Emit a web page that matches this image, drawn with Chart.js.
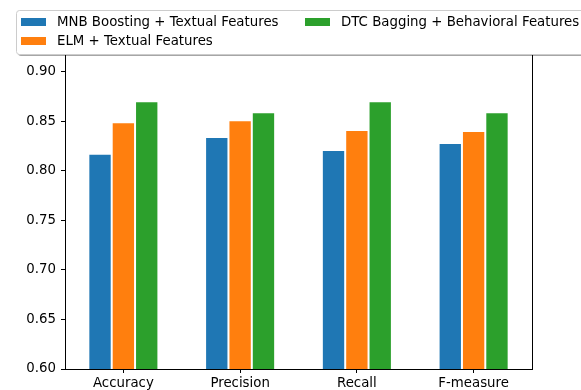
<!DOCTYPE html>
<html>
<head>
<meta charset="utf-8">
<script src="https://cdn.jsdelivr.net/npm/chart.js@4/dist/chart.umd.min.js"></script>
<style>
  body { margin: 0; overflow: hidden; background: white; }
  #wrap { position: relative; width: 581px; height: 400px; }
</style>
</head>
<body>
<div id="wrap"><canvas id="barChart" width="581" height="400"></canvas></div>
<script>
const categories = ["Accuracy", "Precision", "Recall", "F-measure"];
const seriesNames = ["MNB Boosting + Textual Features", "ELM + Textual Features", "DTC Bagging + Behavioral Features"];
const mnbBoosting = [0.817, 0.834, 0.821, 0.828];
const elmTextual = [0.849, 0.851, 0.841, 0.840];
const dtcBagging = [0.870, 0.859, 0.870, 0.859];
const seriesColors = ["#1f77b4", "#ff7f0e", "#2ca02c"];
const yTicks = [0.60, 0.65, 0.70, 0.75, 0.80, 0.85, 0.90, 0.95];

const FONT = "DejaVu Sans";
const FONT_SIZE = 13.33;
const CHART = document.getElementById("barChart");

// box around the axes, like matplotlib spines
const frameBox = {
  id: "frameBox",
  afterDatasetsDraw(chart) {
    const { ctx, chartArea } = chart;
    ctx.save();
    ctx.strokeStyle = "#000";
    ctx.lineWidth = 1;
    ctx.strokeRect(Math.round(chartArea.left) + 0.5, Math.round(chartArea.top) + 0.5,
      Math.round(chartArea.right - chartArea.left), Math.round(chartArea.bottom - chartArea.top));
    ctx.restore();
  }
};

// legend drawn on top of the axes (two columns, shadowed frame)
const overlayLegend = {
  id: "overlayLegend",
  afterDraw(chart) {
    const ctx = chart.ctx;
    const x = 16, y = 10, w = 600, h = 44;
    ctx.save();
    ctx.fillStyle = "rgba(0,0,0,0.35)";
    ctx.beginPath();
    ctx.roundRect(x + 2, y + 2, w, h, 3);
    ctx.fill();
    ctx.fillStyle = "#fff";
    ctx.strokeStyle = "#cccccc";
    ctx.lineWidth = 1;
    ctx.beginPath();
    ctx.roundRect(x + 0.5, y + 0.5, w, h, 3);
    ctx.fill();
    ctx.stroke();

    const slots = [
      { px: 21, py: 18 },
      { px: 21, py: 37 },
      { px: 305, py: 18 }
    ];
    ctx.font = FONT_SIZE + "px '" + FONT + "'";
    ctx.textBaseline = "middle";
    chart.data.datasets.forEach(function (ds, i) {
      const s = slots[i];
      ctx.fillStyle = ds.backgroundColor;
      ctx.fillRect(s.px, s.py, 25, 8);
      ctx.fillStyle = "#000";
      ctx.fillText(ds.label, s.px + 36, s.py + 4.5);
    });
    ctx.restore();
  }
};

const dataSeries = [mnbBoosting, elmTextual, dtcBagging];

new Chart(CHART, {
  type: "bar",
  data: {
    labels: categories,
    datasets: dataSeries.map(function (values, i) {
      return {
        label: seriesNames[i],
        data: values,
        backgroundColor: seriesColors[i],
        borderColor: "#ffffff",
        borderWidth: 1,
        categoryPercentage: 0.6,
        barPercentage: 1.0
      };
    })
  },
  options: {
    responsive: false,
    animation: false,
    layout: { padding: { top: 22, right: 49, left: 0, bottom: 0 } },
    plugins: {
      legend: { display: false },
      tooltip: { enabled: false }
    },
    scales: {
      x: {
        offset: true,
        grid: {
          offset: false,
          drawOnChartArea: false,
          drawTicks: true,
          tickLength: 4,
          color: "#000"
        },
        border: { display: true, color: "#000" },
        ticks: {
          color: "#000",
          padding: 3,
          font: { family: FONT, size: FONT_SIZE }
        },
        afterFit(scale) { scale.height = 31; }
      },
      y: {
        min: 0.6,
        max: 0.95,
        afterBuildTicks(scale) {
          scale.ticks = yTicks.map(function (v) { return { value: v }; });
        },
        grid: {
          drawOnChartArea: false,
          drawTicks: true,
          tickLength: 4,
          color: "#000"
        },
        border: { display: true, color: "#000" },
        ticks: {
          color: "#000",
          padding: 5,
          font: { family: FONT, size: FONT_SIZE },
          callback: function (v) { return Number(v).toFixed(2); }
        },
        afterFit(scale) { scale.width = 65; }
      }
    }
  },
  plugins: [frameBox, overlayLegend]
});
</script>
</body>
</html>
